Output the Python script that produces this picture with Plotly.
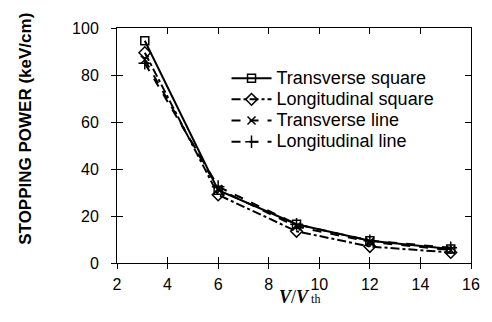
import plotly.graph_objects as go

x_ts = [3.1, 6.0, 9.1, 12.0, 15.2]
y_ts = [94.6, 31.0, 16.5, 9.5, 6.0]
x_ls = [3.1, 6.0, 9.1, 12.0, 15.2]
y_ls = [89.5, 29.0, 13.5, 7.0, 4.5]
x_tl = [3.1, 6.0, 9.1, 12.0, 15.2]
y_tl = [86.5, 31.5, 15.5, 9.0, 5.5]
x_ll = [3.1, 6.0, 9.1, 12.0, 15.2]
y_ll = [85.0, 32.5, 16.5, 9.5, 6.5]

names = ["Transverse square", "Longitudinal square", "Transverse line", "Longitudinal line"]
xs = [x_ts, x_ls, x_tl, x_ll]
ys = [y_ts, y_ls, y_tl, y_ll]
dashes = ["solid", "dashdot", "dash", "dash"]
symbols = ["square-open", "diamond-open", "x-thin-open", "cross-thin-open"]
msizes = [8, 9, 8, 9]

x_ticks = [2, 4, 6, 8, 10, 12, 14, 16]
y_ticks = [0, 20, 40, 60, 80, 100]

fig = go.Figure()
for n, xx, yy, d, s, ms in zip(names, xs, ys, dashes, symbols, msizes):
    fig.add_trace(go.Scatter(
        x=xx, y=yy, name="<span style='font-size:18px'>" + n + "</span>",
        mode="lines+markers",
        line=dict(color="black", width=2, dash=d),
        marker=dict(symbol=s, size=ms, color="black", line=dict(color="black", width=1.5)),
    ))

# page body has an 8px margin; work in reference pixels minus 8
OFF = 8
W, H = 492 - OFF, 322 - OFF
PL, PR, PT, PB = 117 - OFF, 479 - OFF, 25 - OFF, 263 - OFF
pw, ph = PR - PL, PB - PT


def px_x(x):
    return (x - OFF - PL) / pw


def px_y(y):
    return (PB - (y - OFF)) / ph


axis_font = dict(family="Liberation Sans, Arial, sans-serif", size=16, color="black")

common = dict(tickwidth=1, tickcolor="black", showline=True, linecolor="black",
              linewidth=1, showgrid=False, zeroline=False)

fig.update_layout(
    width=W, height=H,
    margin=dict(l=PL, r=W - PR, t=PT, b=H - PB),
    paper_bgcolor="white", plot_bgcolor="white",
    showlegend=True,
    legend=dict(
        x=px_x(229), y=px_y(60), xanchor="left", yanchor="top",
        font=dict(family="Liberation Sans, Arial, sans-serif", size=14, color="black"),
        bgcolor="rgba(0,0,0,0)", tracegroupgap=0, itemwidth=40,
    ),
    xaxis=dict(range=[2, 16], tickvals=x_ticks, ticks="inside", ticklen=6,
               mirror="ticks", tickfont=axis_font, ticklabelstandoff=7, **common),
    xaxis2=dict(overlaying="x", anchor="y2", side="bottom", range=[2, 16],
                tickvals=x_ticks, ticks="outside", ticklen=5,
                showticklabels=False, **common),
    yaxis=dict(range=[0, 100], tickvals=y_ticks, ticks="inside", ticklen=6,
               mirror="ticks", tickfont=axis_font, ticklabelstandoff=14, **common),
    yaxis2=dict(overlaying="y", anchor="x2", side="left", range=[0, 100],
                tickvals=y_ticks, ticks="outside", ticklen=5,
                showticklabels=False, **common),
)

# invisible trace that activates the overlay axes
fig.add_trace(go.Scatter(x=[3], y=[50], xaxis="x2", yaxis="y2", mode="markers",
                         marker=dict(opacity=0), showlegend=False, hoverinfo="skip"))

fig.add_annotation(
    text="<b>STOPPING POWER (keV/cm)</b>", xref="paper", yref="paper",
    x=px_x(24), y=px_y(127), xanchor="center", yanchor="middle",
    textangle=-90, showarrow=False,
    font=dict(family="Liberation Sans, Arial, sans-serif", size=17, color="black"),
)
fig.add_annotation(
    text="<b><i>V</i></b>/<b><i>V</i></b><span style='font-size:12px'> th</span>",
    xref="paper", yref="paper",
    x=px_x(304), y=px_y(297), xanchor="center", yanchor="middle",
    showarrow=False,
    font=dict(family="Liberation Serif, Times New Roman, serif", size=18, color="black"),
)

fig.write_html("out.html")
